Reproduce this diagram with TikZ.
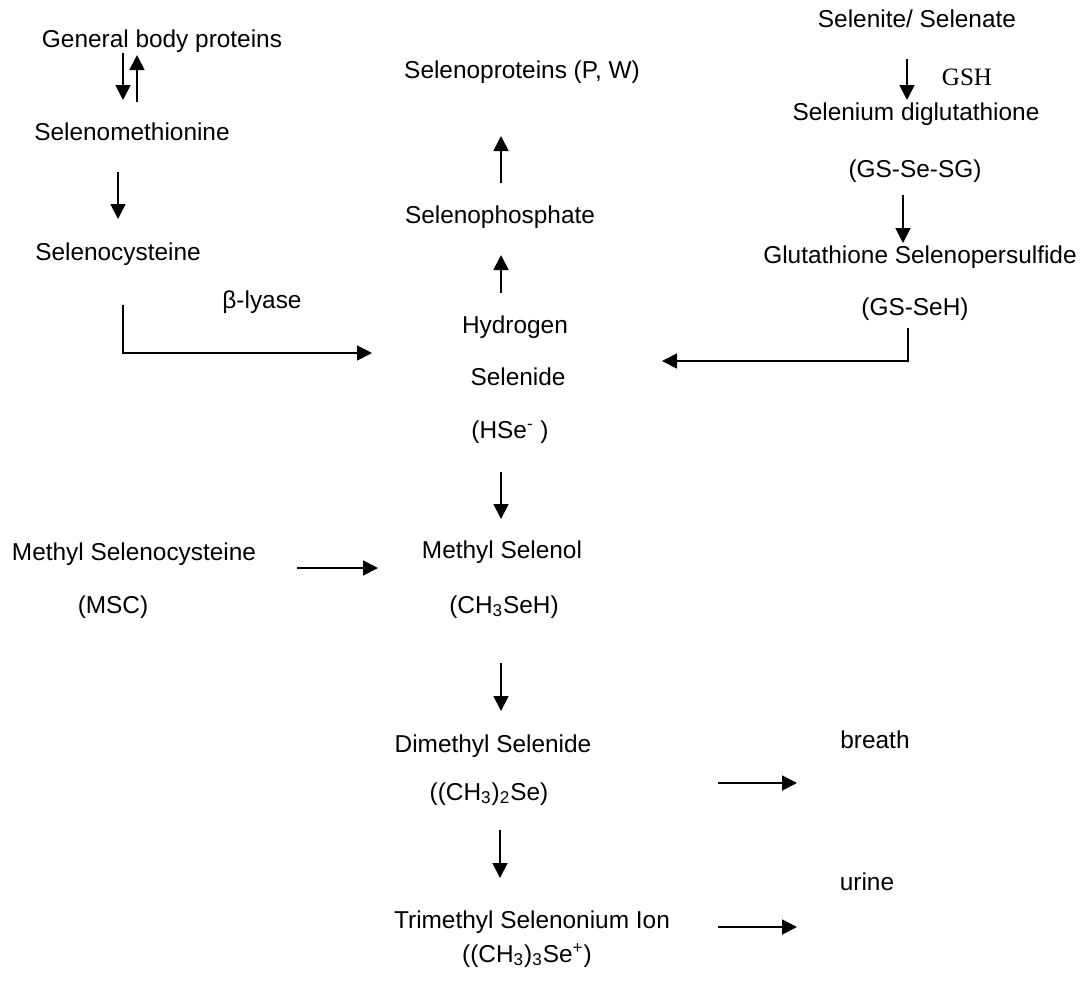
\documentclass[tikz,border=0pt]{standalone}
\usepackage{fontspec}
\setmainfont{Liberation Sans}
\newfontfamily\gshfont{Liberation Serif}
\usetikzlibrary{arrows.meta,calc}
\begin{document}
\begin{tikzpicture}[
x=0.5pt,y=-0.5pt,
every node/.style={inner sep=0pt,anchor=mid,font=\fontsize{12.2}{14}\selectfont},
arr/.style={line width=0.9pt,-{Triangle[length=7.5pt,width=7.5pt]}}
]
\useasboundingbox (0,0) rectangle (1084,981);
% left column
\node (1) at (162,42) {General body proteins};
\node (2) at (132,135) {Selenomethionine};
\node (3) at (118,255) {Selenocysteine};
\node (4) at (262,303) {β-lyase};
\node (10) at (134,555) {Methyl Selenocysteine};
\node (11) at (113,608) {(MSC)};
% middle column
\node (5) at (522,73) {Selenoproteins (P, W)};
\node (6) at (500,218) {Selenophosphate};
\node (7) at (515,328) {Hydrogen};
\node (8) at (518,380) {Selenide};
\node (9) at (510,433) {(HSe\textsuperscript{-} )};
\node (12) at (502,553) {Methyl Selenol};
\node (13) at (504,608) {(CH\textsubscript{3}SeH)};
\node (14) at (493,747) {Dimethyl Selenide};
\node (15) at (489,795) {((CH\textsubscript{3})\textsubscript{2}Se)};
\node (17) at (532,923) {Trimethyl Selenonium Ion};
\node (18) at (527,957) {((CH\textsubscript{3})\textsubscript{3}Se\textsuperscript{+})};
\node (16) at (875,743) {breath};
\node (19) at (867,885) {urine};
% right column
\node (20) at (917,22) {Selenite/ Selenate};
\node[font=\gshfont\fontsize{12.5}{14}\selectfont] (21) at (967,80) {GSH};
\node (22) at (916,115) {Selenium diglutathione};
\node (23) at (915,172) {(GS-Se-SG)};
\node (24) at (920,258) {Glutathione Selenopersulfide};
\node (25) at (915,310) {(GS-SeH)};

\draw[arr] ($(1.mid)+(-39,11)$) -- ($(2.mid)+(-9,-35)$);
\draw[arr] ($(2.mid)+(5,-33)$) -- ($(1.mid)+(-25,13)$);
\draw[arr] ($(2.mid)+(-14,37)$) -- ($(3.mid)+(0,-36)$);
\draw[arr] ($(3.mid)+(5,50)$) |- ($(7.mid)+(-143,25)$);
\draw[arr] ($(6.mid)+(1,-35)$) -- ($(5.mid)+(-21,63)$);
\draw[arr] ($(7.mid)+(-14,-35)$) -- ($(6.mid)+(1,37)$);
\draw[arr] ($(20.mid)+(-10,37)$) -- ($(22.mid)+(-9,-15)$);
\draw[arr] ($(23.mid)+(-12,23)$) -- ($(24.mid)+(-17,-15)$);
\draw[arr] ($(25.mid)+(-7,18)$) |- ($(8.mid)+(144,-19)$);
\draw[arr] ($(9.mid)+(-9,39)$) -- ($(12.mid)+(-1,-34)$);
\draw[arr] ($(10.mid)+(163,13)$) -- ($(12.mid)+(-124,15)$);
\draw[arr] ($(13.mid)+(-3,55)$) -- ($(14.mid)+(8,-36)$);
\draw[arr] ($(15.mid)+(11,35)$) -- ($(17.mid)+(-32,-45)$);
\draw[arr] ($(15.mid)+(229,-12)$) -- ($(16.mid)+(-78,40)$);
\draw[arr] ($(17.mid)+(186,4)$) -- ($(19.mid)+(-70,42)$);
\end{tikzpicture}
\end{document}
